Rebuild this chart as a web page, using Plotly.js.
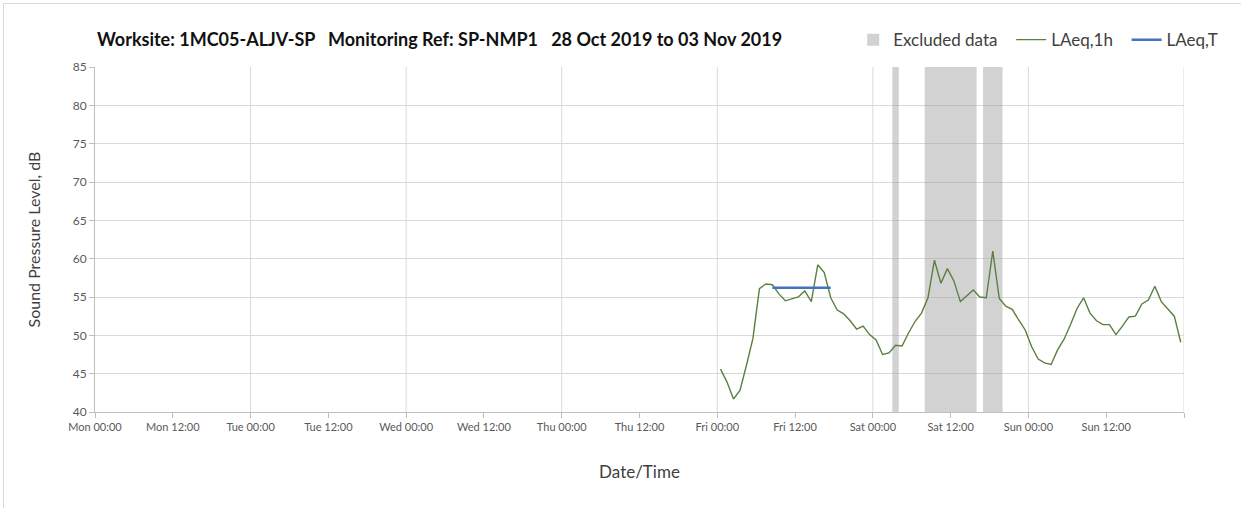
<!DOCTYPE html>
<html>
<head>
<meta charset="utf-8">
<script src="https://cdn.plot.ly/plotly-3.0.1.min.js"></script>
<style>
  html, body { margin: 0; padding: 0; background: #ffffff; overflow: hidden; }
  #wrap { position: relative; width: 1241px; height: 508px; }
  #frame { position: absolute; left: 3px; top: 3px; width: 1400px; height: 700px; border: 1px solid #D9D9D9; pointer-events: none; z-index: 5; }
  #chart { position: absolute; left: 0; top: 0; width: 1241px; height: 508px; }
</style>
</head>
<body>
<div id="wrap">
  <div id="chart"></div>
  <div id="frame"></div>
</div>
<script>
// ---- Data (hourly LAeq,1h, plotted at half past each hour) ----
var friDate = '2019-11-01';
var satDate = '2019-11-02';
var sunDate = '2019-11-03';
var friLAeq1h = [45.6, 43.9, 41.7, 42.8, 46.1, 49.6, 56.1, 56.7, 56.6, 55.4, 54.5, 54.7,
                 55.0, 55.8, 54.4, 59.2, 58.2, 54.9, 53.3, 52.8, 51.9, 50.8, 51.2, 50.1];
var satLAeq1h = [49.4, 47.5, 47.7, 48.7, 48.6, 50.3, 51.8, 52.9, 54.9, 59.8, 56.8, 58.7,
                 57.1, 54.4, 55.1, 55.9, 55.0, 54.9, 61.0, 54.8, 53.8, 53.4, 52.0, 50.7];
var sunLAeq1h = [48.5, 46.9, 46.4, 46.2, 48.1, 49.5, 51.4, 53.5, 54.9, 52.9, 51.9, 51.4,
                 51.4, 50.1, 51.2, 52.4, 52.5, 54.1, 54.6, 56.4, 54.4, 53.5, 52.5, 49.1];

// LAeq,T period
var laeqTTimes = ['2019-11-01 08:30', '2019-11-01 17:30'];
var laeqTValues = [56.2, 56.2];

// Excluded data periods
var excludedStart = ['2019-11-02 03:00', '2019-11-02 08:00', '2019-11-02 17:00'];
var excludedEnd   = ['2019-11-02 04:00', '2019-11-02 16:00', '2019-11-02 20:00'];

// Axis ticks
var xTickVals = ['2019-10-28 00:00', '2019-10-28 12:00', '2019-10-29 00:00', '2019-10-29 12:00',
                 '2019-10-30 00:00', '2019-10-30 12:00', '2019-10-31 00:00', '2019-10-31 12:00',
                 '2019-11-01 00:00', '2019-11-01 12:00', '2019-11-02 00:00', '2019-11-02 12:00',
                 '2019-11-03 00:00', '2019-11-03 12:00', '2019-11-04 00:00'];
var xTickText = ['Mon 00:00', 'Mon 12:00', 'Tue 00:00', 'Tue 12:00', 'Wed 00:00', 'Wed 12:00',
                 'Thu 00:00', 'Thu 12:00', 'Fri 00:00', 'Fri 12:00', 'Sat 00:00', 'Sat 12:00',
                 'Sun 00:00', 'Sun 12:00', ''];
var xRange = ['2019-10-28 00:00', '2019-11-04 00:00'];
var yRange = [40, 85];

// ---- Build series ----
function pad(n) { return (n < 10 ? '0' : '') + n; }
var lineX = [], lineY = [];
[[friDate, friLAeq1h], [satDate, satLAeq1h], [sunDate, sunLAeq1h]].forEach(function (d) {
  d[1].forEach(function (v, h) {
    lineX.push(d[0] + ' ' + pad(h) + ':30');
    lineY.push(v);
  });
});

function ms(s) { return new Date(s.replace(' ', 'T') + ':00Z').getTime(); }
function iso(t) { return new Date(t).toISOString().replace('T', ' ').slice(0, 19); }
var barX = [], barW = [], barY = [], barBase = [];
for (var i = 0; i < excludedStart.length; i++) {
  var a = ms(excludedStart[i]), b = ms(excludedEnd[i]);
  barX.push(iso((a + b) / 2));
  barW.push(b - a);
  barY.push(yRange[1] - yRange[0]);
  barBase.push(yRange[0]);
}

// vertical gridlines at day starts (from tick arrays)
var shapes = [];
xTickVals.forEach(function (v, i) {
  if (xTickVals[i].slice(11) === '00:00' && i > 0) {
    shapes.push({
      type: 'line', xref: 'x', yref: 'paper', x0: v, x1: v, y0: 0, y1: 1,
      line: { color: '#D9D9D9', width: 1 }, layer: 'below'
    });
  }
});

var FONT = 'Lato, "Open Sans", "Noto Sans", sans-serif';
var nb2 = '\u00A0\u00A0';

var traces = [
  {
    type: 'bar', name: 'Excluded data' + nb2, x: barX, y: barY, base: barBase, width: barW,
    marker: { color: 'rgba(160,160,160,0.48)', line: { width: 0 } },
    hoverinfo: 'skip'
  },
  {
    type: 'scatter', mode: 'lines', name: 'LAeq,1h' + nb2, x: lineX, y: lineY,
    line: { color: '#5B7F40', width: 1.4 }
  },
  {
    type: 'scatter', mode: 'lines', name: 'LAeq,T', x: laeqTTimes, y: laeqTValues,
    line: { color: '#4472C4', width: 2.5 }
  }
];

var sp3 = '\u00A0\u00A0\u00A0';
var layout = {
  width: 1241, height: 508,
  margin: { l: 95, r: 57, t: 67, b: 96 },
  paper_bgcolor: '#ffffff', plot_bgcolor: '#ffffff',
  font: { family: FONT, color: '#595959' },
  showlegend: true,
  barmode: 'overlay',
  title: {
    text: '<b>Worksite: 1MC05-ALJV-SP' + sp3 + 'Monitoring Ref: SP-NMP1' + sp3 + '28 Oct 2019 to 03 Nov 2019</b>',
    font: { family: FONT, size: 18, color: '#111111' },
    x: 97 / 1241, xanchor: 'left', xref: 'container',
    y: 1 - 40 / 508, yanchor: 'middle', yref: 'container'
  },
  legend: {
    orientation: 'h', x: 1.036, xanchor: 'right', y: 1.078, yanchor: 'middle',
    font: { family: FONT, size: 17, color: '#404040' },
    bgcolor: 'rgba(0,0,0,0)', traceorder: 'normal', itemwidth: 30
  },
  xaxis: {
    type: 'date', range: xRange,
    tickmode: 'array', tickvals: xTickVals, ticktext: xTickText,
    ticks: 'outside', ticklen: 5, tickcolor: '#BFBFBF', tickwidth: 1,
    showgrid: false, zeroline: false,
    showline: true, linecolor: '#BFBFBF', linewidth: 1,
    tickfont: { family: FONT, size: 11, color: '#595959' },
    title: { text: 'Date/Time', font: { family: FONT, size: 17, color: '#404040' }, standoff: 33 },
    fixedrange: true
  },
  yaxis: {
    range: yRange, dtick: 5, tick0: 40,
    ticks: 'outside', ticklen: 5, tickcolor: '#BFBFBF', tickwidth: 1,
    showgrid: true, gridcolor: '#D9D9D9', gridwidth: 1, zeroline: false,
    showline: true, linecolor: '#BFBFBF', linewidth: 1,
    tickfont: { family: FONT, size: 12, color: '#595959' },
    title: { text: 'Sound Pressure Level, dB', font: { family: FONT, size: 16, color: '#404040' }, standoff: 28 },
    fixedrange: true
  },
  shapes: shapes
};

Plotly.newPlot('chart', traces, layout, { displayModeBar: false, staticPlot: true });
</script>
</body>
</html>
